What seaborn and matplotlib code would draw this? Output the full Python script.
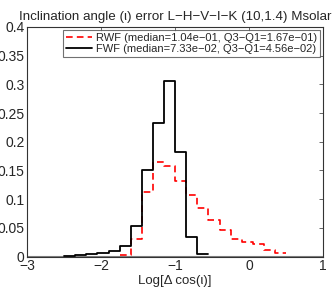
import matplotlib
matplotlib.use('Agg')
import matplotlib.pyplot as plt
import seaborn as sns
import numpy as np

# bin edges (log10 of delta cos), width 0.15
rwf_edges = [-1.75, -1.6, -1.45, -1.3, -1.15, -1.0, -0.85, -0.7, -0.55, -0.4,
             -0.25, -0.1, 0.05, 0.2, 0.35, 0.5]
rwf_frac = [0.002, 0.030, 0.113, 0.165, 0.158, 0.132, 0.107, 0.084, 0.064,
            0.047, 0.030, 0.026, 0.0215, 0.0117, 0.007]

fwf_edges = [-2.5, -2.35, -2.2, -2.05, -1.9, -1.75, -1.6, -1.45, -1.3, -1.15,
             -1.0, -0.85, -0.7, -0.55]
fwf_frac = [0.001, 0.003, 0.004, 0.006, 0.0105, 0.0186, 0.053, 0.151, 0.232,
            0.305, 0.183, 0.035, 0.004]

rwf_label = 'RWF (median=1.04e\u221201, Q3\u2212Q1=1.67e\u221201)'
fwf_label = 'FWF (median=7.33e\u221202, Q3\u2212Q1=4.56e\u221202)'
title = 'Inclination angle (\u03b9) error L\u2212H\u2212V\u2212I\u2212K (10,1.4) Msolar'

sns.set_style('white')
plt.rcParams['font.family'] = ['Liberation Sans', 'DejaVu Sans']

fig = plt.figure(figsize=(3.32, 2.89), dpi=100)
ax = fig.add_axes([0.082, 0.112, 0.891, 0.795])

ax.axhline(0, color='0.5', lw=1.5, zorder=1)

def centers(edges):
    e = np.array(edges)
    return (e[:-1] + e[1:]) / 2

sns.histplot(x=centers(rwf_edges), weights=rwf_frac, bins=rwf_edges,
             element='step', fill=False, color='red', linestyle=(0, (4, 2.5)),
             linewidth=1.2, ax=ax, label=rwf_label)
sns.histplot(x=centers(fwf_edges), weights=fwf_frac, bins=fwf_edges,
             element='step', fill=False, color='black', linewidth=1.3,
             ax=ax, label=fwf_label)

ax.set_xlim(-3, 1)
ax.set_ylim(0, 0.4)
ax.set_xticks([-3, -2, -1, 0, 1])
ax.set_xticklabels(['\u22123', '\u22122', '\u22121', '0', '1'])
yt = [0, 0.05, 0.1, 0.15, 0.2, 0.25, 0.3, 0.35, 0.4]
ax.set_yticks(yt)
ax.set_yticklabels(['0', '0.05', '0.1', '0.15', '0.2', '0.25', '0.3', '0.35', '0.4'])
ax.tick_params(direction='in', top=True, right=True, length=3, width=0.6,
               labelsize=10, pad=2, color='0.3')
ax.set_ylabel('')
ax.set_xlabel('Log[\u0394 cos(\u03b9)]', fontsize=9.5, labelpad=1.5)
ax.set_title(title, fontsize=9.6, pad=5)
for s in ax.spines.values():
    s.set_color('0.2')
    s.set_linewidth(0.8)

leg = ax.legend(loc='upper right', fontsize=8, frameon=True, fancybox=False,
                handlelength=2.4, handletextpad=0.3, borderpad=0.25,
                labelspacing=0.1, borderaxespad=0.3)
leg.get_frame().set_edgecolor('0.3')
leg.get_frame().set_linewidth(0.8)

fig.savefig('out.png', dpi=100)
